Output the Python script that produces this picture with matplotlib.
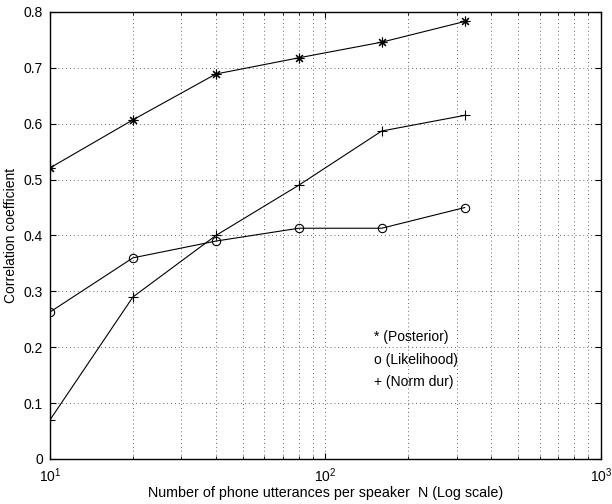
import matplotlib
matplotlib.use("Agg")
import matplotlib.pyplot as plt
import numpy as np

# data
n_utt = [10, 20, 40, 80, 160, 320]
posterior = [0.521, 0.607, 0.689, 0.718, 0.746, 0.783]
likelihood = [0.263, 0.360, 0.390, 0.413, 0.413, 0.450]
norm_dur = [0.070, 0.290, 0.400, 0.490, 0.587, 0.615]
legend_lines = ["* (Posterior)", "o (Likelihood)", "+ (Norm dur)"]

plt.rcParams["font.family"] = ["Liberation Sans", "DejaVu Sans"]
plt.rcParams["font.size"] = 10

fig = plt.figure(figsize=(6.12, 5.04), dpi=100)
ax = fig.add_axes([0.0817, 0.0893, 0.9003, 0.8869])

# matlab-style '*' = plus and cross overlaid
ax.plot(n_utt, posterior, "k-", marker=(8, 2, 0), markersize=7, linewidth=0.8, mew=0.8)
ax.plot(n_utt, likelihood, "k-", marker="o", markersize=6, linewidth=0.8,
        mfc="none", mew=0.8)
ax.plot(n_utt, norm_dur, "k-", marker="+", markersize=7, linewidth=0.8, mew=0.8)

ax.set_xscale("log")
ax.set_xlim(10, 1000)
ax.set_ylim(0, 0.8)
ax.set_yticks(np.arange(0, 0.81, 0.1))
ax.set_yticklabels(["0", "0.1", "0.2", "0.3", "0.4", "0.5", "0.6", "0.7", "0.8"])

grid_kw = dict(linestyle=(0, (1, 3)), color="0.4", linewidth=0.7)
ax.grid(True, which="major", axis="both", **grid_kw)
ax.grid(True, which="minor", axis="x", **grid_kw)
ax.tick_params(which="both", direction="in", top=True, right=True, labelsize=10)
ax.tick_params(which="major", length=4, pad=5)
ax.tick_params(which="minor", length=2)
for s in ax.spines.values():
    s.set_linewidth(1.0)

y0 = 0.218
for i, t in enumerate(legend_lines):
    ax.text(150, y0 - i * 0.04, t, fontsize=10, va="center", ha="left")

ax.set_xlabel("Number of phone utterances per speaker  N (Log scale)", fontsize=10.3, labelpad=1)
ax.set_ylabel("Correlation coefficient", fontsize=10, labelpad=4)

fig.savefig("out.png", dpi=100)
